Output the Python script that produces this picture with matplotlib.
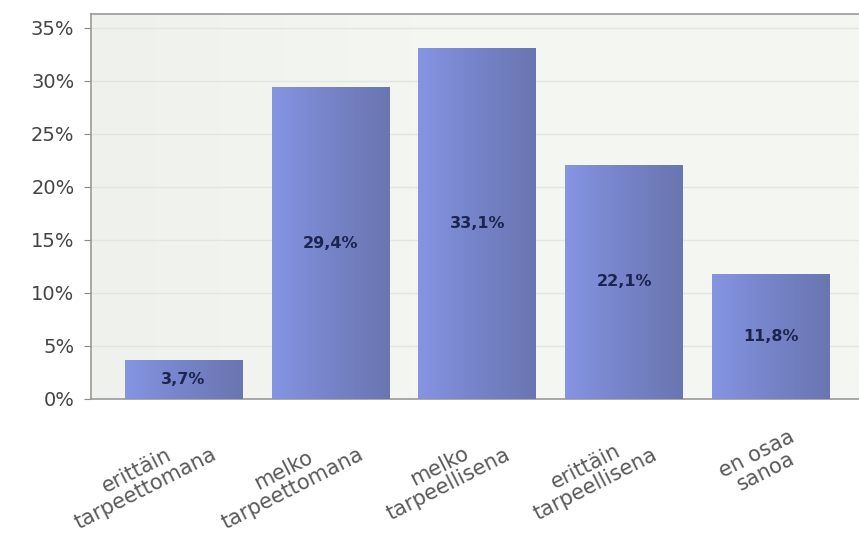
import matplotlib.pyplot as plt
import matplotlib.transforms as mtransforms
import numpy as np
from matplotlib.colors import LinearSegmentedColormap

categories = ["erittäin\ntarpeettomana", "melko\ntarpeettomana", "melko\ntarpeellisena",
              "erittäin\ntarpeellisena", "en osaa\nsanoa"]
values = [3.7, 29.4, 33.1, 22.1, 11.8]
value_labels = ["3,7%", "29,4%", "33,1%", "22,1%", "11,8%"]
yticks = [0, 5, 10, 15, 20, 25, 30, 35]

plt.rcParams['font.family'] = ['DejaVu Sans']

fig = plt.figure(figsize=(8.59, 5.39), dpi=100)
ax = fig.add_axes([0.106, 0.26, 0.894, 0.714])
ax.set_facecolor('#f2f5f0')

# faint horizontal gradient in the plot background
bg = np.linspace(0, 1, 256).reshape(1, -1)
bg_cmap = LinearSegmentedColormap.from_list('bg', ['#eef1ec', '#f4f7f2', '#f3f6f1'])
ax.imshow(bg, cmap=bg_cmap, aspect='auto', extent=[-0.63, 4.6, 0, 36.3], zorder=0)

x = np.arange(len(categories))
bars = ax.bar(x, values, width=0.8, color='#7986cc', zorder=2)

cmap = LinearSegmentedColormap.from_list('bar', ['#8595e2', '#7683c8', '#6a76b0'])
grad = np.linspace(0, 1, 256).reshape(1, -1)
for b in bars:
    x0, y0 = b.get_x(), b.get_y()
    w, h = b.get_width(), b.get_height()
    im = ax.imshow(grad, cmap=cmap, aspect='auto', extent=[x0, x0 + w, y0, y0 + h],
                   zorder=3)
    im.set_clip_path(b)

for xi, v, lab in zip(x, values, value_labels):
    ax.text(xi, v / 2, lab, ha='center', va='center', fontsize=11.5,
            color='#1c2450', fontweight='bold', zorder=4)

ax.set_xlim(-0.63, 4.6)
ax.set_ylim(0, 36.3)
ax.set_yticks(yticks)
ax.set_yticklabels([f"{t}%" for t in yticks], fontsize=14, color='#444444')
ax.yaxis.grid(True, color='#e2e6e0', linewidth=1, zorder=1)
ax.set_axisbelow(True)
ax.tick_params(axis='y', length=5, color='#888888', pad=7)
ax.tick_params(axis='x', length=0, pad=4)

ax.set_xticks(x)
ax.set_xticklabels(categories, rotation=27, ha='right', rotation_mode='anchor',
                   multialignment='center', fontsize=15, color='#5a5a5a',
                   linespacing=1.0)
offset = mtransforms.ScaledTranslation(0.18, -0.22, fig.dpi_scale_trans)
for t in ax.get_xticklabels():
    t.set_transform(t.get_transform() + offset)

for s in ['left', 'top', 'bottom']:
    ax.spines[s].set_color('#999999')
    ax.spines[s].set_linewidth(1.2)
ax.spines['right'].set_visible(False)

fig.savefig('out.png', dpi=100, facecolor='white')
